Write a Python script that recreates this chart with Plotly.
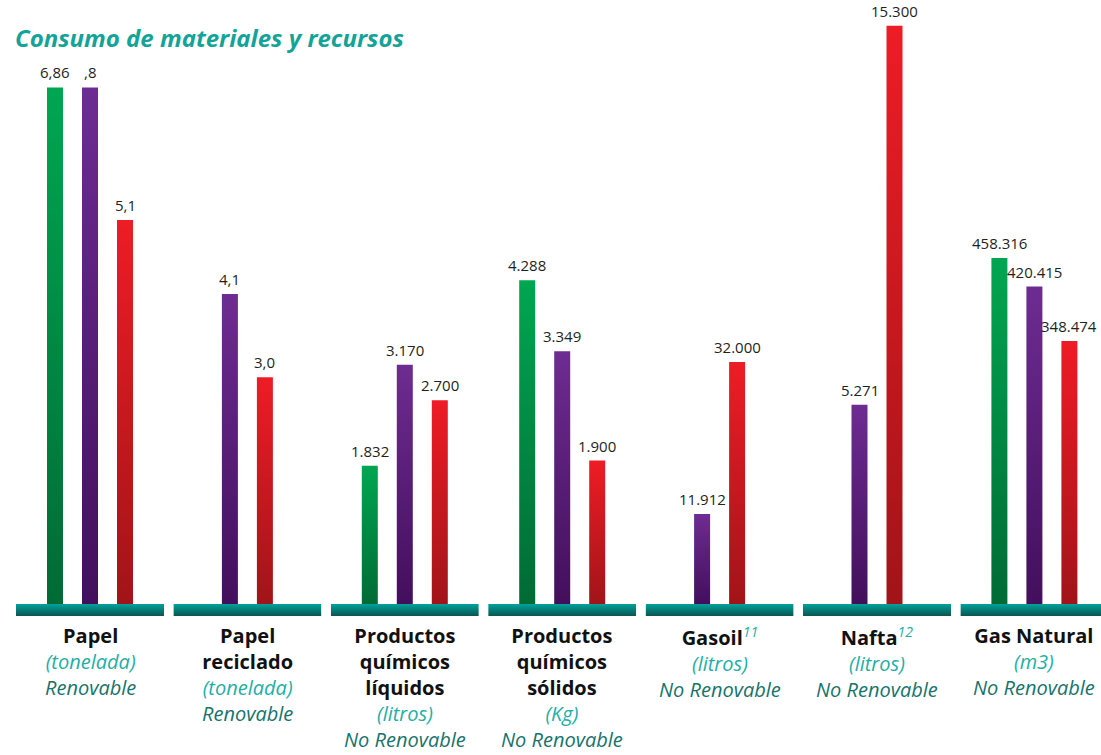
import plotly.graph_objects as go

# ---------------- data ----------------
groups = ["Papel", "Papel<br>reciclado", "Productos<br>químicos<br>líquidos",
          "Productos<br>químicos<br>sólidos", "Gasoil", "Nafta", "Gas Natural"]
superscripts = ["", "", "", "", "11", "12", ""]
units = ["(tonelada)", "(tonelada)", "(litros)", "(Kg)", "(litros)", "(litros)", "(m3)"]
renewable = ["Renovable", "Renovable", "No Renovable", "No Renovable",
             "No Renovable", "No Renovable", "No Renovable"]

green_vals = [6.86, None, 1832, 4288, None, None, 458316]
purple_vals = [6.86, 4.1, 3170, 3349, 11912, 5271, 420415]
red_vals = [5.1, 3.0, 2700, 1900, 32000, 15300, 348474]

green_labels = ["6,86", "", "1.832", "4.288", "", "", "458.316"]
purple_labels = [",8", "4,1", "3.170", "3.349", "11.912", "5.271", "420.415"]
red_labels = ["5,1", "3,0", "2.700", "1.900", "32.000", "15.300", "348.474"]

# each group has its own value scale (top of the value axis)
axis_top = [7.888, 7.857, 7868, 7868, 78571, 15714, 786755]

# ---------------- styling ----------------
W, H = 1101, 755
FONT = "Open Sans"
series_colors = [  # (bottom, top)
    ("#006b35", "#00a651"),
    ("#430f5c", "#6d2c92"),
    ("#a11419", "#ee1c25"),
]
base_colors = ("#0b5552", "#00a39a")
title_color = "#13a398"
unit_color = "#22aea6"
renew_color = "#17736c"

GROUP_X0, GROUP_PITCH, GROUP_W = 16, 157.4, 148
SLOT = 35.0          # px between bars
BAR_W = 16.0         # px bar width
BASE_PX = 604        # baseline (px from top)
TOP_PX = 10          # top of value axis (px from top)
STRIP_PX = 12        # height of the teal strip

fig = go.Figure()
layout_axes = {}

y_dom = [(H - BASE_PX - STRIP_PX) / H, (H - TOP_PX) / H]

for i in range(len(groups)):
    x0 = GROUP_X0 + GROUP_PITCH * i
    x1 = min(x0 + GROUP_W, W)
    half = GROUP_W / 2 / SLOT
    xr = [-half, -half + (x1 - x0) / SLOT]
    top = axis_top[i]
    ybot = -top * STRIP_PX / (BASE_PX - TOP_PX)
    xa = "x" if i == 0 else f"x{i+1}"
    ya = "y" if i == 0 else f"y{i+1}"
    layout_axes["xaxis" if i == 0 else f"xaxis{i+1}"] = dict(
        domain=[x0 / W, x1 / W], range=xr, visible=False, fixedrange=True)
    layout_axes["yaxis" if i == 0 else f"yaxis{i+1}"] = dict(
        domain=y_dom, range=[ybot, top], visible=False, fixedrange=True,
        anchor=xa)

    # teal base strip
    fig.add_trace(go.Scatter(
        x=[xr[0], xr[1], xr[1], xr[0], xr[0]], y=[ybot, ybot, 0, 0, ybot],
        xaxis=xa, yaxis=ya, mode="lines", line=dict(width=0),
        fill="toself",
        fillgradient=dict(type="vertical",
                          colorscale=[[0, base_colors[0]], [1, base_colors[1]]]),
        hoverinfo="skip", showlegend=False))

    vals = [green_vals[i], purple_vals[i], red_vals[i]]
    labs = [green_labels[i], purple_labels[i], red_labels[i]]
    present = [k for k in range(3) if vals[k] is not None]
    n = len(present)
    hw = BAR_W / 2 / SLOT
    for j, k in enumerate(present):
        c = j - (n - 1) / 2
        v = vals[k]
        fig.add_trace(go.Scatter(
            x=[c - hw, c + hw, c + hw, c - hw, c - hw], y=[0, 0, v, v, 0],
            xaxis=xa, yaxis=ya, mode="lines", line=dict(width=0),
            fill="toself",
            fillgradient=dict(type="vertical",
                              colorscale=[[0, series_colors[k][0]],
                                          [1, series_colors[k][1]]]),
            hoverinfo="skip", showlegend=False))
        fig.add_annotation(
            x=c, y=v, xref=xa, yref=ya, xanchor="center", yanchor="bottom",
            yshift=3, showarrow=False, text=labs[k],
            font=dict(family=FONT, size=15, color="#231f20"))

    # category label
    sup = (f"<sup><i><span style='color:{unit_color}'>{superscripts[i]}</span></i></sup>"
           if superscripts[i] else "")
    label = (f"<b>{groups[i]}</b>{sup}<br>"
             f"<i><span style='color:{unit_color}'>{units[i]}</span></i><br>"
             f"<i><span style='color:{renew_color}'>{renewable[i]}</span></i>")
    fig.add_annotation(
        x=(x0 + GROUP_W / 2) / W, y=(H - 620) / H, xref="paper", yref="paper",
        xanchor="center", yanchor="top", align="center", showarrow=False,
        text=label, font=dict(family=FONT, size=20, color="#111111"))

fig.add_annotation(
    x=13 / W, y=(H - 37) / H, xref="paper", yref="paper",
    xanchor="left", yanchor="middle", showarrow=False,
    text="<b><i>Consumo de materiales y recursos</i></b>",
    font=dict(family=FONT, size=24, color=title_color))

fig.update_layout(
    width=W, height=H, margin=dict(l=0, r=0, t=0, b=0),
    paper_bgcolor="white", plot_bgcolor="white", showlegend=False,
    **layout_axes)

fig.write_html("out.html",
               config={"displayModeBar": False},
               post_script="document.body.style.margin='0';"
                           "document.body.style.padding='0';")
